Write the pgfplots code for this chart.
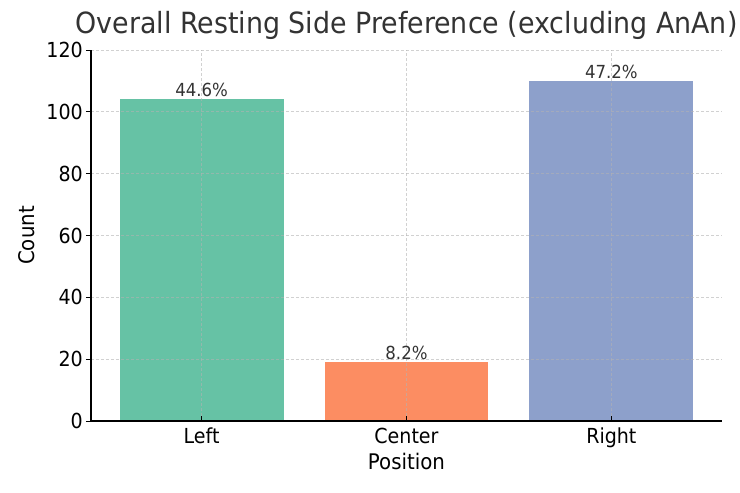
\documentclass[border=0pt]{standalone}
\usepackage{fontspec}
\setmainfont{DejaVu Sans}[FakeStretch=0.92]
\usepackage{pgfplots}
\pgfplotsset{compat=1.18}
\definecolor{cL}{HTML}{66C2A5}
\definecolor{cC}{HTML}{FC8D62}
\definecolor{cR}{HTML}{8DA0CB}
\definecolor{txt}{HTML}{333333}
\begin{document}
\begin{tikzpicture}
\begin{axis}[
  at={(0,0)}, anchor=south west,
  scale only axis, width=631pt, height=371pt,
  xmin=-0.54, xmax=2.54, ymin=0, ymax=120,
  xtick={0,1,2}, xticklabels={Left,Center,Right},
  ytick={0,20,...,120},
  axis x line*=bottom, axis y line*=left,
  axis line style={-, black, line width=1.1pt},
  tick align=outside,
  major tick length=5pt,
  xtick style={black, line width=0.9pt, yshift=5pt},
  ytick style={black, line width=0.9pt},
  grid=major,
  grid style={dash pattern=on 3pt off 2pt, gray!60, line width=0.7pt, opacity=0.6},
  axis on top,
  ybar, bar width=0.8,
  /pgf/number format/assume math mode=true,
  ticklabel style={font=\fontsize{20.7}{24}\selectfont, black},
  yticklabel style={inner sep=3pt},
  xticklabel style={anchor=north, inner sep=0pt, yshift=-2pt},
  title={Overall Resting Side Preference (excluding AnAn)},
  title style={at={(axis description cs:0.5,1)}, anchor=base, yshift=10.5pt,
    font=\fontsize{29.2}{35}\selectfont, text=txt},
  xlabel={Position},
  ylabel={Count},
  every axis x label/.style={at={(axis description cs:0.5,-0.132)}, anchor=base,
    font=\fontsize{21.5}{26}\selectfont},
  every axis y label/.style={at={(axis description cs:-0.1014,0.5)}, anchor=center, rotate=90,
    font=\fontsize{21.5}{26}\selectfont},
  point meta=explicit symbolic,
  nodes near coords,
  every node near coord/.append style={anchor=base, yshift=2.5pt, inner sep=0pt,
    font=\fontsize{18}{22}\selectfont, text=txt},
]
\addplot[fill=cL, draw=none, bar shift=0pt] coordinates {(0,104) [44.6\%]};
\addplot[fill=cC, draw=none, bar shift=0pt] coordinates {(1,19) [8.2\%]};
\addplot[fill=cR, draw=none, bar shift=0pt] coordinates {(2,110) [47.2\%]};
\end{axis}
\pgfresetboundingbox
\path[use as bounding box] (-91pt,-72pt) rectangle (649pt,421pt);
\end{tikzpicture}
\end{document}
